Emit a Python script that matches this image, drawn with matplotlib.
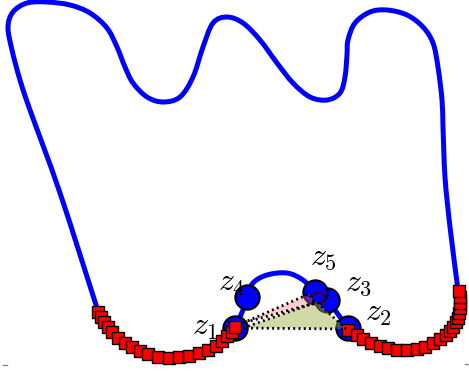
import matplotlib
matplotlib.use("Agg")
import matplotlib.pyplot as plt
from matplotlib.path import Path
from matplotlib.patches import PathPatch

plt.rcParams['mathtext.fontset'] = 'cm'

# Upper blue curve (pixel-like coordinates, y downward)
curve_x = [97, 60, 30, 20, 12, 8, 13, 27, 47, 70, 90, 107, 117, 125, 133, 147, 163,
           180, 193, 203, 213, 227, 243, 260, 277, 293, 310, 327, 340, 345, 347, 348,
           355, 370, 387, 407, 423, 433, 438, 442, 443, 445, 450, 458]
curve_y = [308, 193, 110, 80, 50, 27, 12, 3, 2, 5, 13, 28, 47, 67, 83, 97, 102,
           97, 77, 47, 23, 17, 23, 40, 63, 83, 97, 100, 93, 77, 55, 40,
           23, 12, 10, 15, 27, 43, 67, 100, 127, 177, 227, 290]

# Left bottom chain of squares
left_x = [98, 101, 104, 108, 112, 118, 125, 132, 140, 148, 158, 169, 179, 189,
          199, 208, 216, 222, 227, 232, 235]
left_y = [312, 317, 322, 327, 332, 338, 343, 347, 351, 354, 357, 358, 357, 356,
          353, 350, 346, 341, 336, 332, 327]

# Right bottom chain of squares
right_x = [348, 357, 363, 371, 380, 388, 397, 407, 417, 425, 433, 440, 446, 450,
           453, 456, 458, 459, 460, 460, 460, 459]
right_y = [330, 335, 339, 343, 346, 348, 350, 350, 349, 347, 343, 339, 335, 331,
           327, 322, 318, 313, 308, 303, 297, 291]

# Middle arc connecting z1 -> z4 -> z5 -> z3 -> z2
arc_x = [235, 243, 247, 253, 267, 287, 303, 315, 327, 348]
arc_y = [328, 310, 297, 283, 275, 273, 280, 292, 300, 328]

# Circles (z points)
pts_names = ['z_1', 'z_2', 'z_3', 'z_4', 'z_5']
pts_x = [235, 348, 327, 247, 315]
pts_y = [328, 328, 300, 297, 292]
label_x = [205, 378, 359, 232, 323]
label_y = [326, 312, 283, 283, 256]

# Triangles
pink_x = [243, 309, 315]
pink_y = [323, 294, 303]
green_x = [243, 317, 346]
green_y = [328, 302, 329]

# small marks at bottom
mark_x = [[3, 7], [465, 468]]
mark_y = [[365, 365], [364, 364]]


def smooth_path(xs, ys):
    """Catmull-Rom curve through the given points, drawn as cubic Beziers."""
    pts = list(zip(xs, ys))
    verts = [pts[0]]
    codes = [Path.MOVETO]
    n = len(pts)
    for i in range(n - 1):
        p0 = pts[i - 1] if i > 0 else pts[i]
        p1 = pts[i]
        p2 = pts[i + 1]
        p3 = pts[i + 2] if i + 2 < n else pts[i + 1]
        c1 = (p1[0] + (p2[0] - p0[0]) / 6.0, p1[1] + (p2[1] - p0[1]) / 6.0)
        c2 = (p2[0] - (p3[0] - p1[0]) / 6.0, p2[1] - (p3[1] - p1[1]) / 6.0)
        verts += [c1, c2, p2]
        codes += [Path.CURVE4] * 3
    return Path(verts, codes)


fig = plt.figure(figsize=(4.69, 3.75), dpi=100)
ax = fig.add_axes([0, 0, 1, 1])
ax.set_xlim(0, 469)
ax.set_ylim(375, 0)
ax.axis('off')

blue = '#0000ff'
for xs, ys in ((curve_x, curve_y), (left_x, left_y), (right_x, right_y), (arc_x, arc_y)):
    ax.add_patch(PathPatch(smooth_path(xs, ys), fill=False, edgecolor=blue, lw=3.6,
                           capstyle='round', joinstyle='round', zorder=1))

ax.plot(pts_x, pts_y, 'o', ms=17.5, mfc=blue, mec='black', mew=1.5, ls='none', zorder=2)
ax.plot([318], [298], 'o', ms=9, mfc='none', mec='#400020', mew=1.5, zorder=2)

ax.plot(left_x, left_y, 's', ms=8.8, mfc='#ff0000', mec='black', mew=1.0, ls='none', zorder=3)
ax.plot(right_x, right_y, 's', ms=8.8, mfc='#ff0000', mec='black', mew=1.0, ls='none', zorder=3)

ax.fill(green_x, green_y, color='#9aae3a', alpha=0.45, lw=0, zorder=4)
ax.fill(pink_x, pink_y, color='#ff7070', alpha=0.35, lw=0, zorder=4)
for tx, ty in ((pink_x, pink_y), (green_x, green_y)):
    ax.plot(tx + [tx[0]], ty + [ty[0]], color='black', lw=2.0,
            ls=(0, (0.7, 1.2)), zorder=5)

for n, lx, ly in zip(pts_names, label_x, label_y):
    ax.text(lx, ly, '$' + n + '$', fontsize=23, ha='center', va='center', zorder=6)

for mx, my in zip(mark_x, mark_y):
    ax.plot(mx, my, color='#888888', lw=1, zorder=1)

fig.savefig('out.png', dpi=100)
